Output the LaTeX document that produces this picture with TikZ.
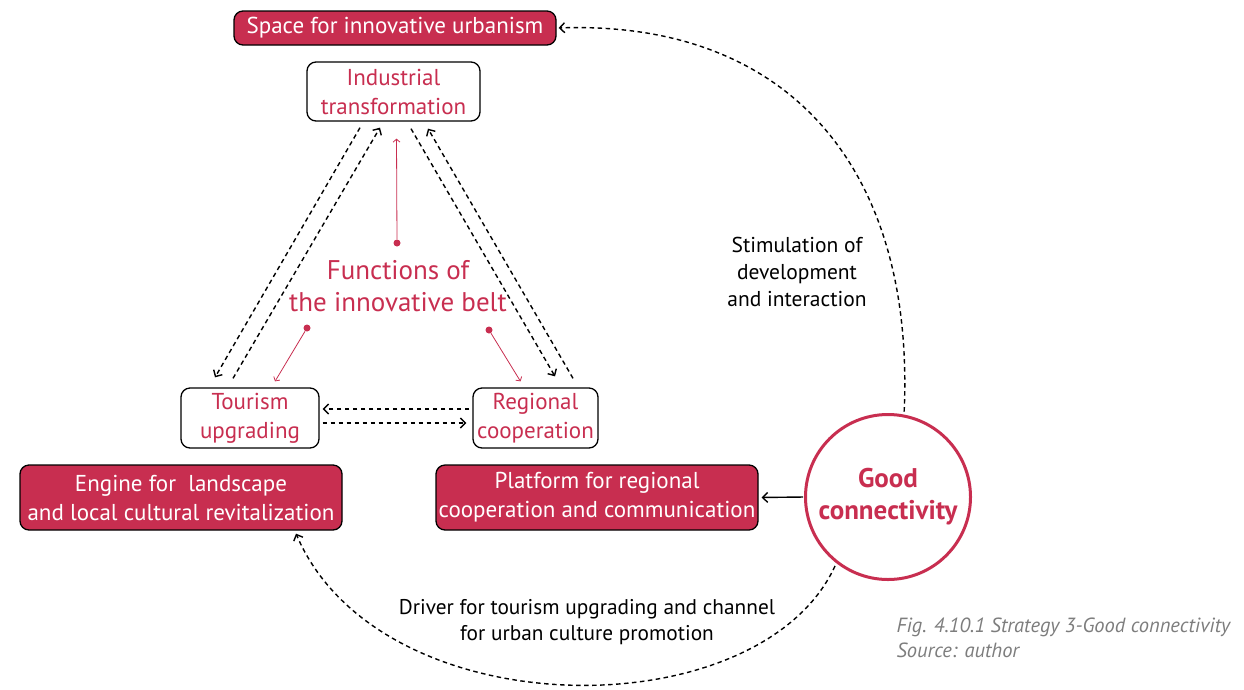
\documentclass[tikz,border=0pt]{standalone}
\usepackage{fontspec}
\setmainfont{PT Sans}
\usetikzlibrary{arrows.meta,calc}
\definecolor{belt}{RGB}{200,46,80}
\definecolor{capgray}{RGB}{125,125,125}

\begin{document}
\begin{tikzpicture}[%
        x=1pt, y=-1pt,
        >={Straight Barb[length=5pt,width=10pt]},
        role/.style={draw=black, line width=1.3pt, fill=belt, text=white,
            rounded corners=9pt, align=center, inner sep=0pt,
            font=\fontsize{23}{29}\selectfont},
        func/.style={draw=black, line width=1.3pt, fill=white, text=belt,
            rounded corners=9pt, align=center, inner sep=0pt,
            font=\fontsize{23}{29}\selectfont},
        flow/.style={->, line width=1.4pt, dash pattern=on 4.5pt off 3.5pt},
        pin/.style={belt, line width=0.8pt,
            -{Straight Barb[length=3pt,width=7pt]}},
        dot/.style={circle, fill=belt, inner sep=0pt, minimum size=7pt}
    ]
    \useasboundingbox (0,0) rectangle (1244,689);

    \node[role, minimum width=322, minimum height=34] (space) at (395,28)
        {Space for innovative urbanism};
    \node[func, minimum width=173, minimum height=59] (industrial) at (393.5,91.5)
        {Industrial\\transformation};
    \node[func, minimum width=138, minimum height=60] (tourism) at (250,418)
        {Tourism\\upgrading};
    \node[func, minimum width=125, minimum height=60] (regional) at (535.5,418)
        {Regional\\cooperation};
    \node[role, minimum width=322, minimum height=65] (engine) at (181,497.5)
        {Engine for\ \ landscape\\and local cultural revitalization};
    \node[role, minimum width=322, minimum height=65] (platform) at (597,497.5)
        {Platform for regional\\cooperation and communication};
    \node[circle, draw=belt, line width=3pt, minimum size=165, text=belt,
        align=center, font=\bfseries\fontsize{27}{32}\selectfont] (good) at (888,497)
        {Good\\connectivity};

    \node[text=belt, align=center, font=\fontsize{27}{32}\selectfont]
        (functions) at (398,286) {Functions of\\the innovative belt};
    \node[dot] (dtop) at ($(functions)+(-1,-43)$) {};
    \node[dot] (dleft) at ($(functions)+(-91,42)$) {};
    \node[dot] (dright) at ($(functions)+(91,44)$) {};

    \node[align=center, font=\fontsize{21.5}{27}\selectfont] (stim) at (797,272)
        {Stimulation of\\development\\and interaction};
    \node[align=center, font=\fontsize{21.3}{26}\selectfont] (driver) at (587,622)
        {Driver for tourism upgrading and channel\\for urban culture promotion};
    \node[anchor=west, align=left, text=capgray,
        font=\itshape\fontsize{20.5}{25}\selectfont] (caption) at (893,638)
        {Fig. 4.10.1 Strategy 3-Good connectivity\\Source: author};

    % functions of the belt
    \path
    (dtop)      edge[pin]   ($(industrial.south)+(3,17)$)
    (dleft)     edge[pin]   ($(tourism.north)+(25,-6)$)
    (dright)    edge[pin]   ($(regional.north)+(-15,-6)$);

    % exchange between the three functions
    \path
    ($(industrial.south)+(-33.5,6)$)  edge[flow] ($(tourism.north)+(-35,-10)$)
    ($(tourism.north)+(-17,-9)$)      edge[flow] ($(industrial.south)+(-13.5,6)$)
    ($(industrial.south)+(17.5,7)$)   edge[flow] ($(regional.north)+(19.5,-11)$)
    ($(regional.north)+(37.5,-9)$)    edge[flow] ($(industrial.south)+(34.5,7)$)
    ($(regional.west)+(-3,-9)$)       edge[flow] ($(tourism.east)+(3,-9)$)
    ($(tourism.east)+(3,5)$)          edge[flow] ($(regional.west)+(-6,5)$);

    % outcomes of good connectivity
    \draw[->, line width=1.4pt, shorten <=1pt, shorten >=3pt] (good.west) -- (platform.east);
    \draw[flow, shorten <=3pt, shorten >=2pt]
        (good.79) .. controls (915,170) and (790,20) .. (space.east);
    \draw[flow, shorten <=3pt]
        (good.232) .. controls (760,730) and (380,730) .. ($(engine.south)+(115,3)$);
\end{tikzpicture}
\end{document}
